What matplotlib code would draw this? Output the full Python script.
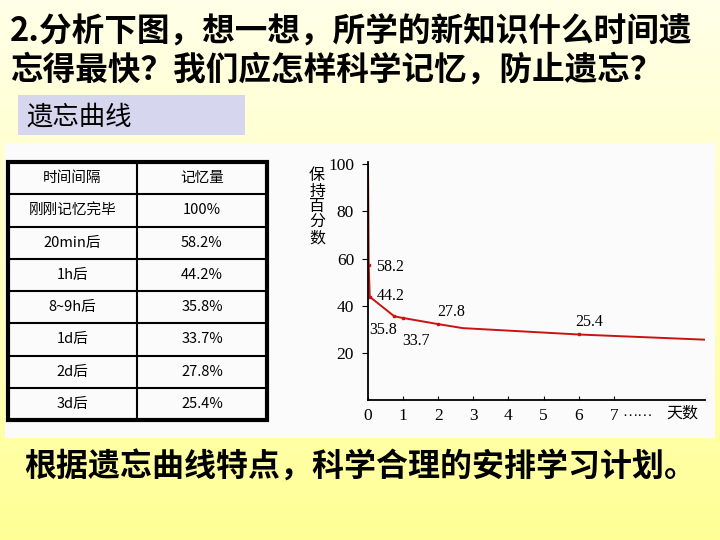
import numpy as np
import matplotlib.pyplot as plt
from matplotlib.patches import Rectangle

plt.rcParams['font.family'] = ['Noto Sans CJK SC', 'DejaVu Sans']

# slide text
title_lines = ['2.分析下图，想一想，所学的新知识什么时间遗',
               '忘得最快？我们应怎样科学记忆，防止遗忘？']
box_label = '遗忘曲线'
bottom_text = '根据遗忘曲线特点，科学合理的安排学习计划。'

# table data
table_header = ['时间间隔', '记忆量']
intervals = ['刚刚记忆完毕', '20min后', '1h后', '8~9h后', '1d后', '2d后', '3d后']
retention = ['100%', '58.2%', '44.2%', '35.8%', '33.7%', '27.8%', '25.4%']

# curve as drawn (days, percent)
curve_days = [0, 0.01, 0.02, 0.05, 0.75, 1, 2, 2.7, 6, 9.6]
curve_pct = [100, 80, 57.5, 43.8, 35.5, 34.8, 32.2, 30.5, 27.8, 25.6]
marker_days = [0.02, 0.05, 0.75, 1, 2, 6]
marker_pct = [57.5, 43.8, 35.5, 34.8, 32.2, 27.8]
point_labels = ['58.2', '44.2', '35.8', '33.7', '27.8', '25.4']
label_offsets = [(0.2, -1.2), (0.21, 0.4), (-0.72, -5.7), (-0.02, -9.6), (-0.02, 5.0), (-0.1, 5.1)]

x_ticks = [0, 1, 2, 3, 4, 5, 6, 7]
y_ticks = [20, 40, 60, 80, 100]

W, H = 720, 540
fig = plt.figure(figsize=(7.2, 5.4), dpi=100)

# background with yellow gradient, pixel coordinates
bg = fig.add_axes([0, 0, 1, 1])
bg.set_xlim(0, W)
bg.set_ylim(H, 0)
bg.axis('off')
t = np.linspace(0, 1, 256)[:, None]
top = np.array([255, 255, 232]) / 255
bot = np.array([255, 255, 150]) / 255
grad = top + (bot - top) * t
grad = np.repeat(grad[:, None, :], 2, axis=1)
bg.imshow(grad, extent=[0, W, H, 0], aspect='auto', zorder=0)

for i, line in enumerate(title_lines):
    bg.text(10, 32 + i * 38, line, fontsize=23.5, fontweight='bold',
            va='center', ha='left', zorder=2)

bg.add_patch(Rectangle((18, 95), 227, 40, facecolor='#d6d6ee', edgecolor='none', zorder=1))
bg.text(26, 117, box_label, fontsize=19, va='center', ha='left', zorder=2)

bg.text(24, 468, bottom_text, fontsize=23, fontweight='bold',
        va='center', ha='left', zorder=2)

# white panel
bg.add_patch(Rectangle((5, 143), 710, 295, facecolor='#fbfbfb', edgecolor='none', zorder=1))

# table
tx0, tx1, tdiv = 8, 267, 137
ty0, ty1 = 162, 420
rows = [table_header] + [[a, b] for a, b in zip(intervals, retention)]
rh = (ty1 - ty0) / len(rows)
for i in range(1, len(rows)):
    bg.plot([tx0, tx1], [ty0 + i * rh] * 2, color='black', lw=1.5, zorder=3)
bg.plot([tdiv, tdiv], [ty0, ty1], color='black', lw=1.5, zorder=3)
bg.add_patch(Rectangle((tx0, ty0), tx1 - tx0, ty1 - ty0, facecolor='none',
                       edgecolor='black', lw=3, zorder=4))
for i, (a, b) in enumerate(rows):
    yc = ty0 + (i + 0.5) * rh
    bg.text((tx0 + tdiv) / 2, yc, a, fontsize=10.5, ha='center', va='center', zorder=3)
    bg.text((tdiv + tx1) / 2, yc, b, fontsize=10.5, ha='center', va='center', zorder=3)

# forgetting curve chart
ax = fig.add_axes([368 / W, (H - 400) / H, (705 - 368) / W, (400 - 162) / H])
ax.patch.set_alpha(0)
ax.plot(curve_days, curve_pct, color='#cc1111', lw=1.4)
ax.plot(marker_days, marker_pct, 's', color='#cc1111', ms=2)
for d, p, lab, (dx, dy) in zip(marker_days, marker_pct, point_labels, label_offsets):
    ax.text(d + dx, p + dy, lab, fontsize=11.5, family='Liberation Serif',
            ha='left', va='center')
ax.set_xlim(0, 9.6)
ax.set_ylim(0, 101)
for s in ['top', 'right']:
    ax.spines[s].set_visible(False)
ax.spines['left'].set_linewidth(1.3)
ax.spines['bottom'].set_linewidth(1.3)
ax.set_xticks(x_ticks)
ax.set_yticks(y_ticks)
ax.tick_params(axis='x', direction='in', length=3, labelsize=12.5, pad=6)
ax.tick_params(axis='y', direction='out', length=4, labelsize=12.5, pad=6)
for lab in ax.get_xticklabels() + ax.get_yticklabels():
    lab.set_family('Liberation Serif')
ax.text(7.25, -5.5, '……', fontsize=11, family='Liberation Serif', ha='left', va='center',
        clip_on=False)
ax.text(8.5, -5.5, '天数', fontsize=11.5, ha='left', va='center', clip_on=False)
ax.text(-1.45, 82, '保\n持\n百\n分\n数', fontsize=11.5, ha='center', va='center',
        linespacing=0.9, clip_on=False)

fig.savefig('out.png', dpi=100)
